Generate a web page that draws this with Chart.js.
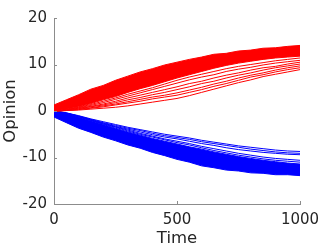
<!DOCTYPE html>
<html>
<head>
<meta charset="utf-8">
<script src="https://cdn.jsdelivr.net/npm/chart.js@4.4.1/dist/chart.umd.min.js"></script>
<style>
  html, body { margin: 0; padding: 0; background: #fff; }
  #wrap { width: 332px; height: 249px; }
</style>
</head>
<body>
<div id="wrap"><canvas id="opinionChart" width="332" height="249"></canvas></div>
<script>
// time steps the opinions were sampled at
const times = [0, 50, 100, 150, 200, 250, 300, 350, 400, 450, 500,
               550, 600, 650, 700, 750, 800, 850, 900, 950, 1000];

const xTicks = [0, 500, 1000];
const yTicks = [-20, -10, 0, 10, 20];

// red group: edges of the dense bundle, then the lagging runs below it
const redTop = [1.3, 2.4, 3.5, 4.7, 5.5, 6.6, 7.5, 8.4, 9.1, 9.9, 10.5,
                11.1, 11.6, 12.2, 12.4, 12.9, 13.1, 13.5, 13.6, 13.9, 14.1];
const redBottom = [0, 0.4, 0.9, 1.6, 2.4, 3.1, 4.0, 4.8, 5.5, 6.3, 7.1,
                   7.8, 8.5, 9.2, 9.8, 10.3, 10.7, 11.1, 11.4, 11.6, 11.8];
const red1 = [0, 0.3, 0.8, 1.4, 2.1, 2.8, 3.6, 4.3, 5.0, 5.8, 6.6,
              7.3, 7.9, 8.5, 9.1, 9.6, 10.0, 10.4, 10.8, 11.1, 11.4];
const red2 = [0, 0.3, 0.7, 1.2, 1.8, 2.5, 3.2, 3.9, 4.6, 5.3, 6.0,
              6.7, 7.3, 7.8, 8.5, 9.0, 9.4, 9.9, 10.3, 10.6, 10.9];
const red3 = [0, 0.2, 0.6, 1.0, 1.5, 2.1, 2.8, 3.4, 4.0, 4.6, 5.2,
              5.9, 6.4, 7.1, 7.7, 8.2, 8.8, 9.3, 9.6, 10.1, 10.5];
const red4 = [0, 0.2, 0.5, 0.9, 1.3, 1.8, 2.4, 2.9, 3.5, 4.0, 4.6,
              5.2, 5.9, 6.4, 7.1, 7.7, 8.2, 8.8, 9.3, 9.7, 10.1];
const red5 = [0, 0.1, 0.4, 0.7, 1.1, 1.5, 2.0, 2.5, 3.0, 3.4, 3.9,
              4.5, 5.1, 5.8, 6.4, 7.1, 7.7, 8.2, 8.8, 9.3, 9.7];
const red6 = [0, 0.1, 0.3, 0.6, 0.9, 1.3, 1.7, 2.1, 2.6, 3.0, 3.4,
              4.0, 4.6, 5.3, 5.9, 6.6, 7.3, 7.8, 8.4, 8.9, 9.3];
const red7 = [0, 0.1, 0.2, 0.4, 0.6, 0.8, 1.1, 1.5, 1.9, 2.3, 2.7,
              3.3, 4.0, 4.7, 5.4, 6.1, 6.7, 7.4, 7.9, 8.4, 8.9];

// blue group, same layout but mirrored below zero
const blueTop = [0, -0.5, -1.3, -2.1, -2.9, -3.7, -4.5, -5.2, -5.9, -6.5, -7.1,
                 -7.7, -8.2, -8.8, -9.3, -9.8, -10.2, -10.6, -10.9, -11.2, -11.4];
const blueBottom = [-1.3, -2.5, -3.7, -4.6, -5.6, -6.4, -7.3, -8.0, -8.9, -9.6, -10.4,
                    -11.0, -11.8, -12.2, -12.7, -12.9, -13.3, -13.4, -13.7, -13.7, -13.9];
const blue1 = [0, -0.4, -1.0, -1.7, -2.3, -2.9, -3.5, -4.0, -4.5, -5.0, -5.4,
               -5.8, -6.3, -6.7, -7.1, -7.5, -7.8, -8.1, -8.4, -8.6, -8.7];
const blue2 = [0, -0.4, -1.1, -1.8, -2.5, -3.1, -3.7, -4.2, -4.8, -5.3, -5.7,
               -6.1, -6.6, -7.0, -7.4, -7.8, -8.2, -8.5, -8.8, -9.0, -9.1];
const blue3 = [0, -0.5, -1.1, -1.9, -2.6, -3.3, -3.9, -4.5, -5.1, -5.6, -6.0,
               -6.5, -7.0, -7.4, -7.9, -8.3, -8.6, -8.9, -9.1, -9.3, -9.4];
const blue4 = [0, -0.5, -1.2, -2.0, -2.7, -3.4, -4.1, -4.8, -5.4, -6.0, -6.5,
               -7.0, -7.6, -8.1, -8.6, -9.1, -9.5, -9.9, -10.2, -10.4, -10.6];
const blue5 = [0, -0.5, -1.2, -2.0, -2.8, -3.5, -4.3, -5.0, -5.6, -6.2, -6.8,
               -7.3, -7.9, -8.5, -9.0, -9.5, -9.9, -10.3, -10.6, -10.8, -11.0];

const RED = "#ff0000";
const BLUE = "#0000ff";

function pts(vals) {
  return vals.map((v, i) => ({ x: times[i], y: v }));
}

function run(vals, color) {
  return { data: pts(vals), borderColor: color, borderWidth: 1, pointRadius: 0, fill: false };
}

// band = top edge filled down to the bottom edge (dataset right after it)
function band(top, bottom, color) {
  return [
    { data: pts(top), borderColor: color, backgroundColor: color, borderWidth: 1, pointRadius: 0, fill: "+1" },
    { data: pts(bottom), borderColor: color, borderWidth: 1, pointRadius: 0, fill: false },
  ];
}

const datasets = [
  ...[red1, red2, red3, red4, red5, red6, red7].map((r) => run(r, RED)),
  ...[blue1, blue2, blue3, blue4, blue5].map((b) => run(b, BLUE)),
  ...band(redTop, redBottom, RED),
  ...band(blueTop, blueBottom, BLUE),
];

// small MATLAB style tick marks pointing into the plot
const innerTicks = {
  id: "innerTicks",
  afterDatasetsDraw(chart) {
    const { ctx, chartArea, scales } = chart;
    ctx.save();
    ctx.strokeStyle = "#8c8c8c";
    ctx.lineWidth = 1;
    xTicks.forEach((v) => {
      const px = Math.round(scales.x.getPixelForValue(v)) + 0.5;
      ctx.beginPath();
      ctx.moveTo(px, chartArea.bottom);
      ctx.lineTo(px, chartArea.bottom - 3);
      ctx.stroke();
    });
    yTicks.forEach((v) => {
      const py = Math.round(scales.y.getPixelForValue(v)) + 0.5;
      ctx.beginPath();
      ctx.moveTo(chartArea.left, py);
      ctx.lineTo(chartArea.left + 3, py);
      ctx.stroke();
    });
    ctx.restore();
  },
};

const textColor = "#262626";
const tickFont = { family: "DejaVu Sans", size: 15 };
const labelFont = { family: "DejaVu Sans", size: 16.5 };

new Chart(document.getElementById("opinionChart"), {
  type: "line",
  data: { datasets },
  options: {
    responsive: false,
    animation: false,
    events: [],
    layout: { padding: { top: 18, right: 32, left: 0, bottom: 0 } },
    plugins: { legend: { display: false }, tooltip: { enabled: false } },
    elements: { line: { tension: 0 } },
    scales: {
      x: {
        type: "linear",
        min: 0,
        max: 1000,
        afterBuildTicks: (s) => { s.ticks = xTicks.map((v) => ({ value: v })); },
        afterFit: (s) => { s.height = 45; },
        grid: { display: true, drawOnChartArea: false, drawTicks: false },
        border: { color: "#8c8c8c", width: 1 },
        ticks: { color: textColor, font: tickFont, padding: 7, maxRotation: 0, callback: (v) => String(v) },
        title: { display: true, text: "Time", color: textColor, font: labelFont, padding: { top: 0, bottom: 0 } },
      },
      y: {
        min: -20,
        max: 20,
        afterBuildTicks: (s) => { s.ticks = yTicks.map((v) => ({ value: v })); },
        afterFit: (s) => { s.width = 54; },
        grid: { display: true, drawOnChartArea: false, drawTicks: false },
        border: { color: "#8c8c8c", width: 1 },
        ticks: { color: textColor, font: tickFont, padding: 7, callback: (v) => String(v) },
        title: { display: true, text: "Opinion", color: textColor, font: labelFont, padding: { top: 1, bottom: 0 } },
      },
    },
  },
  plugins: [innerTicks],
});
</script>
</body>
</html>
